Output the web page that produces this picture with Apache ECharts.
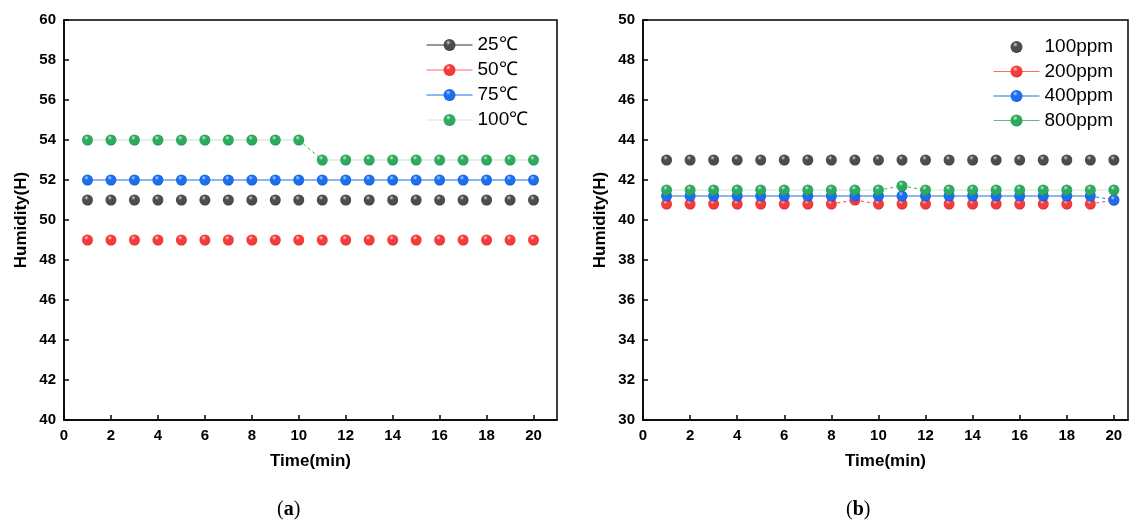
<!DOCTYPE html>
<html><head><meta charset="utf-8">
<script src="https://cdn.jsdelivr.net/npm/echarts@6/dist/echarts.min.js"></script>
<style>html,body{margin:0;padding:0;background:#fff}#c{width:1133px;height:525px}</style>
</head><body><div id="c"></div>
<script>
// ---- data ----
const times = [1,2,3,4,5,6,7,8,9,10,11,12,13,14,15,16,17,18,19,20];
const xTicksA = [0,2,4,6,8,10,12,14,16,18,20];
const namesA = ['25℃','50℃','75℃','100℃'];
const t25  = [51,51,51,51,51,51,51,51,51,51,51,51,51,51,51,51,51,51,51,51];
const t50  = [49,49,49,49,49,49,49,49,49,49,49,49,49,49,49,49,49,49,49,49];
const t75  = [52,52,52,52,52,52,52,52,52,52,52,52,52,52,52,52,52,52,52,52];
const t100 = [54,54,54,54,54,54,54,54,54,54,53,53,53,53,53,53,53,53,53,53];
const namesB = ['100ppm','200ppm','400ppm','800ppm'];
const p100 = [43,43,43,43,43,43,43,43,43,43,43,43,43,43,43,43,43,43,43,43];
const p200 = [40.8,40.8,40.8,40.8,40.8,40.8,40.8,40.8,41.0,40.8,40.8,40.8,40.8,40.8,40.8,40.8,40.8,40.8,40.8,41.0];
const p400 = [41.2,41.2,41.2,41.2,41.2,41.2,41.2,41.2,41.2,41.2,41.2,41.2,41.2,41.2,41.2,41.2,41.2,41.2,41.2,41.0];
const p800 = [41.5,41.5,41.5,41.5,41.5,41.5,41.5,41.5,41.5,41.5,41.7,41.5,41.5,41.5,41.5,41.5,41.5,41.5,41.5,41.5];

// ---- helpers ----
function ball(base, light, dark){
  return new echarts.graphic.RadialGradient(0.4,0.3,0.7,[
    {offset:0,color:light},{offset:0.3,color:base},{offset:0.85,color:base},{offset:1,color:dark}]);
}
const colors = {
  k:{c:'#4d4d4d', l:'#d0d0d0', d:'#333333', line:'#333'},
  r:{c:'#f53c3c', l:'#ffd0d0', d:'#d02020', line:'#ff6b6b'},
  b:{c:'#1c6ef0', l:'#b8d2ff', d:'#1050c0', line:'#1f6fe5'},
  g:{c:'#2eaa5e', l:'#c4f0d2', d:'#1d8a48', line:'#5cbf7d'}
};
function pts(v){ return times.map((t,i)=>[t,v[i]]); }
function flat(v){
  const out=[];
  v.forEach((y,i)=>{ if(i>0 && v[i]!==v[i-1]) out.push([times[i]-0.5,'-']); out.push([times[i],y]); });
  return out;
}
function changes(v){
  const out=[];
  v.forEach((y,i)=>{
    const inc = (i>0 && v[i]!==v[i-1]) || (i<v.length-1 && v[i]!==v[i+1]);
    out.push([times[i], inc? y : '-']);
  });
  return out;
}
function markers(name, v, col, gi){
  return {name, type:'line', xAxisIndex:gi, yAxisIndex:gi, data:pts(v), symbol:'circle', symbolSize:11,
    itemStyle:{color:ball(col.c,col.l,col.d)}, lineStyle:{width:0,opacity:0}, z:5, silent:true, animation:false};
}
function flatLine(v, color, width, gi){
  return {type:'line', xAxisIndex:gi, yAxisIndex:gi, data:flat(v), symbol:'none', connectNulls:false,
    lineStyle:{color, width}, z:3, silent:true, animation:false};
}
function dashLine(v, color, gi){
  return {type:'line', xAxisIndex:gi, yAxisIndex:gi, data:changes(v), symbol:'none', connectNulls:false,
    lineStyle:{color, width:1, type:[3,3]}, z:3, silent:true, animation:false};
}

const axisFont = {fontFamily:'Liberation Sans, Arial', fontWeight:'bold', fontSize:15, color:'#000'};
function xAxis(gi, max){
  return {type:'value', gridIndex:gi, min:0, max, interval:2,
    axisLine:{show:true, onZero:false, lineStyle:{color:'#000', width:1.5}},
    axisTick:{inside:true, length:5, lineStyle:{color:'#000', width:1.5}},
    axisLabel:Object.assign({margin:8, showMaxLabel:false, formatter:v=> xTicksA.includes(v)? String(v):''}, axisFont),
    splitLine:{show:false},
    name:'Time(min)', nameLocation:'middle', nameGap:33,
    nameTextStyle:{fontFamily:'Liberation Sans, Arial', fontWeight:'bold', fontSize:17, color:'#000'}};
}
function yAxis(gi, min, max){
  return {type:'value', gridIndex:gi, min, max, interval:2,
    axisLine:{show:true, lineStyle:{color:'#000', width:1.5}},
    axisTick:{inside:true, length:5, lineStyle:{color:'#000', width:1.5}},
    axisLabel:Object.assign({margin:8}, axisFont),
    splitLine:{show:false},
    name:'Humidity(H)', nameLocation:'middle', nameGap:34,
    nameTextStyle:{fontFamily:'Liberation Sans, Arial', fontWeight:'bold', fontSize:17, color:'#000'}};
}
function legendItem(name, col, showLine){
  return {name, itemStyle:{color:ball(col.c,col.l,col.d)},
    lineStyle:{color:col.line, width:1, opacity: showLine?1:0}};
}
const legText = {fontFamily:'Liberation Sans, Arial', fontSize:19, color:'#000', lineHeight:22};

const option = {
  backgroundColor:'#fff',
  animation:false,
  grid:[
    {left:64, top:20, width:493, height:400, show:true, borderColor:'#000', borderWidth:1.5, backgroundColor:'transparent'},
    {left:643, top:20, width:485, height:400, show:true, borderColor:'#000', borderWidth:1.5, backgroundColor:'transparent'}
  ],
  xAxis:[xAxis(0,21), xAxis(1,20.6)],
  yAxis:[yAxis(0,40,60), yAxis(1,30,50)],
  legend:[
    {left:426, top:34, orient:'vertical', itemWidth:46, itemHeight:15, itemGap:3, padding:0, textStyle:legText, itemStyle:{borderWidth:0},
     data:[legendItem(namesA[0],colors.k,true),legendItem(namesA[1],colors.r,true),legendItem(namesA[2],colors.b,true),legendItem(namesA[3],{c:colors.g.c,l:colors.g.l,d:colors.g.d,line:'#cfe9d6'},true)], selectedMode:false},
    {left:993, top:36, orient:'vertical', itemWidth:46, itemHeight:15, itemGap:2.5, padding:0, textStyle:legText,
     data:[legendItem(namesB[0],colors.k,false),legendItem(namesB[1],colors.r,true),legendItem(namesB[2],colors.b,true),legendItem(namesB[3],colors.g,true)], selectedMode:false}
  ],
  series:[
    flatLine(t75, colors.b.line, 1.2, 0),
    flatLine(t100, '#bfe3c9', 1, 0),
    dashLine(t100, '#3aaa62', 0),
    markers(namesA[0], t25, colors.k, 0),
    markers(namesA[1], t50, colors.r, 0),
    markers(namesA[2], t75, colors.b, 0),
    markers(namesA[3], t100, colors.g, 0),
    flatLine(p400, colors.b.line, 1.2, 1),
    flatLine(p800, '#cfe9d6', 1, 1),
    dashLine(p200, '#f04848', 1),
    dashLine(p400, '#1f6fe5', 1),
    dashLine(p800, '#3aaa62', 1),
    markers(namesB[0], p100, colors.k, 1),
    markers(namesB[1], p200, colors.r, 1),
    markers(namesB[2], p400, colors.b, 1),
    markers(namesB[3], p800, colors.g, 1)
  ],
  graphic:[
    {type:'text', left:277, top:500, style:{text:'({b|a})', font:'20px "Liberation Serif", serif', fill:'#000', rich:{b:{fontWeight:'bold', fontSize:20, fontFamily:'Liberation Serif'}}}},
    {type:'text', left:846, top:500, style:{text:'({b|b})', font:'20px "Liberation Serif", serif', fill:'#000', rich:{b:{fontWeight:'bold', fontSize:20, fontFamily:'Liberation Serif'}}}}
  ]
};
const chart = echarts.init(document.getElementById('c'), null, {renderer:'canvas'});
chart.setOption(option);
</script></body></html>
